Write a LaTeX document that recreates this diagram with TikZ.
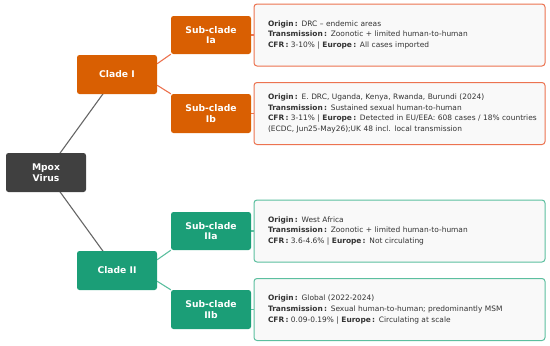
\documentclass[tikz,border=0pt]{standalone}
\usepackage{fontspec}
\setmainfont{DejaVu Sans}
\usetikzlibrary{backgrounds}

\definecolor{rootgrey}{HTML}{404040}
\definecolor{cladeorange}{HTML}{D95F02}
\definecolor{cladegreen}{HTML}{1B9E77}
\definecolor{lineorange}{HTML}{EC7350}
\definecolor{linegreen}{HTML}{5CBF9F}
\definecolor{infofill}{HTML}{F9F9F9}

\tikzset{
	box/.style={rounded corners=2.5pt, minimum width=80, minimum height=39, text=white, align=center, inner sep=2pt,
		font=\bfseries\fontsize{9.2}{10.5}\selectfont},
	infobox/.style={rounded corners=3pt, fill=infofill, line width=1pt, minimum width=291, minimum height=62,
		text width=285, align=left, inner sep=0pt, font=\fontsize{7.45}{10.7}\selectfont, text=black!80,
		execute at begin node={\leftskip=11pt}},
}
\newcommand{\lbl}[1]{\textbf{#1\,:}}

\begin{document}
\begin{tikzpicture}[x=1pt, y=-1pt]
	\useasboundingbox (0,0) rectangle (550,346);
	% root and clades
	\node[box, fill=rootgrey] (mpox) at (46,172.5) {Mpox\\Virus};
	\node[box, fill=cladeorange] (cI) at (117,74.5) {Clade I};
	\node[box, fill=cladegreen] (cII) at (117,270.5) {Clade II};
	% sub-clades
	\node[box, fill=cladeorange, minimum height=38] (sIa) at (211,35) {Sub-clade\\Ia};
	\node[box, fill=cladeorange] (sIb) at (211,113.5) {Sub-clade\\Ib};
	\node[box, fill=cladegreen, minimum height=38] (sIIa) at (211,231) {Sub-clade\\IIa};
	\node[box, fill=cladegreen] (sIIb) at (211,309.5) {Sub-clade\\IIb};
	% info boxes
	\node[infobox, draw=lineorange] (iIa) at (399.5,35) {\lbl{Origin} DRC -- endemic areas\\
		\lbl{Transmission} Zoonotic + limited human-to-human\\
		\lbl{CFR} 3-10\% | \lbl{Europe} All cases imported};
	\node[infobox, draw=lineorange] (iIb) at (399.5,113.5) {\lbl{Origin} E. DRC, Uganda, Kenya, Rwanda, Burundi (2024)\\
		\lbl{Transmission} Sustained sexual human-to-human\\
		\lbl{CFR} 3-11\% | \lbl{Europe} Detected in EU/EEA: 608 cases / 18\% countries\\
		(ECDC, Jun25-May26);UK 48 incl. local transmission};
	\node[infobox, draw=linegreen] (iIIa) at (399.5,231) {\lbl{Origin} West Africa\\
		\lbl{Transmission} Zoonotic + limited human-to-human\\
		\lbl{CFR} 3.6-4.6\% | \lbl{Europe} Not circulating};
	\node[infobox, draw=linegreen] (iIIb) at (399.5,309.5) {\lbl{Origin} Global (2022-2024)\\
		\lbl{Transmission} Sexual human-to-human; predominantly MSM\\
		\lbl{CFR} 0.09-0.19\% | \lbl{Europe} Circulating at scale};
	% connectors
	\begin{pgfonlayer}{background}
		\draw[black!60, line width=1.1pt] (mpox.center) -- (cI.center);
		\draw[black!60, line width=1.1pt] (mpox.center) -- (cII.center);
		\draw[lineorange, line width=1.1pt] (cI.15) -- (sIa.south west);
		\draw[lineorange, line width=1.1pt] (cI.-15) -- (sIb.north west);
		\draw[linegreen, line width=1.1pt] (cII.15) -- (sIIa.south west);
		\draw[linegreen, line width=1.1pt] (cII.-15) -- (sIIb.north west);
		\draw[lineorange, line width=1.1pt] (sIa.east) -- (iIa.west);
		\draw[lineorange, line width=1.1pt] (sIb.east) -- (iIb.west);
		\draw[linegreen, line width=1.1pt] (sIIa.east) -- (iIIa.west);
		\draw[linegreen, line width=1.1pt] (sIIb.east) -- (iIIb.west);
	\end{pgfonlayer}
\end{tikzpicture}
\end{document}
